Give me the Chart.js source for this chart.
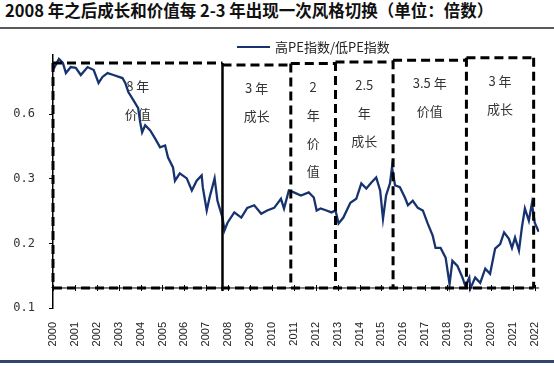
<!DOCTYPE html>
<html>
<head>
<meta charset="utf-8">
<script src="https://cdn.jsdelivr.net/npm/chart.js@4.4.1/dist/chart.umd.min.js"></script>
<style>
  html, body { margin: 0; padding: 0; background: #fff; }
  #wrap { position: relative; width: 554px; height: 366px; overflow: hidden; }
  #title {
    position: absolute; left: 5px; top: -2px; line-height: 26px;
    font: bold 16.5px "Noto Sans CJK SC", sans-serif; color: #111; white-space: nowrap;
  }
  #topRule { position: absolute; left: 0; top: 27px; width: 554px; height: 2px; background: #5a5a5a; }
  #bottomRule { position: absolute; left: 0; top: 360px; width: 554px; height: 3px; background: #34466b; }
  canvas { position: absolute; left: 0; top: 0; }
</style>
</head>
<body>
<div id="wrap">
  <div id="title">2008 年之后成长和价值每 2-3 年出现一次风格切换（单位：倍数）</div>
  <div id="topRule"></div>
  <canvas id="styleChart" width="554" height="366"></canvas>
  <div id="bottomRule"></div>
</div>
<script>
// --- data ---
const seriesLabel = '高PE指数/低PE指数';
const years = [2000.00, 2000.27, 2000.45, 2000.59, 2000.81, 2001.04, 2001.27, 2001.58, 2001.86, 2002.08,
  2002.26, 2002.49, 2002.76, 2003.17, 2003.30, 2003.44, 2003.67, 2003.89, 2003.98, 2004.07,
  2004.21, 2004.44, 2004.66, 2004.89, 2005.12, 2005.25, 2005.48, 2005.57, 2005.79, 2006.11,
  2006.34, 2006.56, 2006.79, 2006.84, 2007.02, 2007.15, 2007.38, 2007.51, 2007.74, 2007.83,
  2007.97, 2008.28, 2008.60, 2008.87, 2009.19, 2009.51, 2009.78, 2010.10, 2010.41, 2010.55,
  2010.77, 2011.00, 2011.32, 2011.68, 2011.91, 2012.04, 2012.22, 2012.49, 2012.72, 2012.90,
  2013.04, 2013.26, 2013.58, 2013.85, 2014.08, 2014.31, 2014.53, 2014.76, 2014.94, 2015.07,
  2015.21, 2015.39, 2015.48, 2015.62, 2015.84, 2016.07, 2016.21, 2016.43, 2016.66, 2016.89,
  2017.11, 2017.34, 2017.47, 2017.70, 2017.93, 2018.11, 2018.24, 2018.47, 2018.70, 2018.83,
  2019.01, 2019.06, 2019.28, 2019.51, 2019.74, 2019.96, 2020.19, 2020.42, 2020.60, 2020.82,
  2020.96, 2021.10, 2021.28, 2021.41, 2021.55, 2021.73, 2021.87, 2022.00, 2022.18];
const ratio = [0.805, 0.857, 0.838, 0.791, 0.819, 0.815, 0.782, 0.819, 0.805, 0.745,
  0.773, 0.791, 0.782, 0.768, 0.745, 0.703, 0.665, 0.628, 0.563, 0.516,
  0.549, 0.525, 0.488, 0.446, 0.455, 0.400, 0.353, 0.297, 0.325, 0.302,
  0.282, 0.297, 0.316, 0.287, 0.251, 0.271, 0.302, 0.266, 0.240, 0.220,
  0.232, 0.248, 0.240, 0.255, 0.259, 0.246, 0.251, 0.255, 0.269, 0.254,
  0.282, 0.279, 0.274, 0.279, 0.271, 0.251, 0.254, 0.251, 0.248, 0.251,
  0.231, 0.240, 0.263, 0.269, 0.293, 0.285, 0.294, 0.306, 0.282, 0.238,
  0.274, 0.293, 0.353, 0.290, 0.287, 0.271, 0.259, 0.266, 0.255, 0.251,
  0.231, 0.212, 0.193, 0.193, 0.178, 0.137, 0.173, 0.165, 0.147, 0.134,
  0.147, 0.130, 0.147, 0.139, 0.161, 0.153, 0.192, 0.199, 0.217, 0.207,
  0.193, 0.209, 0.189, 0.224, 0.254, 0.235, 0.262, 0.232, 0.218];
const yearTicks = [2000, 2001, 2002, 2003, 2004, 2005, 2006, 2007, 2008, 2009, 2010, 2011,
  2012, 2013, 2014, 2015, 2016, 2017, 2018, 2019, 2020, 2021, 2022];
const yTickValues = [0.1, 0.2, 0.3, 0.6];
const yTop = 0.875;

// style periods (dashed boxes)
const boxEdges = [2000, 2007.74, 2010.86, 2012.9, 2015.53, 2018.88, 2021.95];
const boxTops = [0.838, 0.829, 0.835, 0.842, 0.851, 0.862];
const boxBottom = 0.131;
const boxLabels = [['8 年', '价值'], ['3 年', '成长'], ['2', '年', '价', '值'],
  ['2.5', '年', '成长'], ['3.5 年', '价值'], ['3 年', '成长']];

// the value axis has evenly spaced labels 0.1 / 0.2 / 0.3 / 0.6
function toAxis(v) {
    const n = yTickValues.length;
    for (let i = 0; i < n - 1; i++) {
        const a = yTickValues[i], b = yTickValues[i + 1];
        if (v <= b || i === n - 2) return i + (v - a) / (b - a);
    }
}

const lineColor = '#17336f';

const decor = {
    id: 'decor',
    beforeDatasetsDraw(chart) {
        const { ctx, scales: { x, y } } = chart;
        ctx.save();
        ctx.fillStyle = '#333';
        ctx.font = '13px "Noto Sans CJK SC", sans-serif';
        ctx.textAlign = 'center';
        ctx.textBaseline = 'middle';
        boxLabels.forEach((lines, i) => {
            const cx = (x.getPixelForValue(boxEdges[i]) + x.getPixelForValue(boxEdges[i + 1])) / 2;
            const top = y.getPixelForValue(toAxis(boxTops[i]));
            lines.forEach((t, k) => ctx.fillText(t, cx, top + 23 + k * 28));
        });
        ctx.restore();
    },
    afterDatasetsDraw(chart) {
        const { ctx, chartArea, scales: { x, y } } = chart;
        const yb = y.getPixelForValue(toAxis(boxBottom));
        ctx.save();

        // horizontal axis line crossing at the box bottom
        ctx.strokeStyle = '#000';
        ctx.lineWidth = 1;
        ctx.beginPath();
        ctx.moveTo(chartArea.left, yb);
        ctx.lineTo(chartArea.right, yb);
        yearTicks.forEach(v => {
            const px = Math.round(x.getPixelForValue(v)) + 0.5;
            ctx.moveTo(px, yb - 3);
            ctx.lineTo(px, yb + 3);
        });
        ctx.stroke();

        // dashed boxes
        ctx.lineWidth = 3;
        ctx.setLineDash([9, 5]);
        ctx.beginPath();
        boxTops.forEach((t, i) => {
            const yt = y.getPixelForValue(toAxis(t));
            ctx.moveTo(x.getPixelForValue(boxEdges[i]), yt);
            ctx.lineTo(x.getPixelForValue(boxEdges[i + 1]), yt);
        });
        ctx.moveTo(x.getPixelForValue(boxEdges[0]), yb);
        ctx.lineTo(x.getPixelForValue(boxEdges[boxEdges.length - 1]), yb);
        boxEdges.forEach((e, k) => {
            if (k === 1) return;
            const tops = [boxTops[k - 1], boxTops[k]].filter(v => v !== undefined);
            const yt = y.getPixelForValue(toAxis(Math.max(...tops)));
            const px = x.getPixelForValue(e);
            ctx.moveTo(px, yt);
            ctx.lineTo(px, yb);
        });
        ctx.stroke();

        // first box right side is solid
        ctx.setLineDash([]);
        ctx.lineWidth = 2.5;
        ctx.beginPath();
        const sx = x.getPixelForValue(boxEdges[1]);
        ctx.moveTo(sx, y.getPixelForValue(toAxis(Math.max(boxTops[0], boxTops[1]))));
        ctx.lineTo(sx, yb + 3);
        ctx.stroke();

        // legend
        ctx.strokeStyle = lineColor;
        ctx.lineWidth = 2;
        ctx.beginPath();
        ctx.moveTo(237, 47);
        ctx.lineTo(270, 47);
        ctx.stroke();
        ctx.fillStyle = '#222';
        ctx.font = '13px "Noto Sans CJK SC", sans-serif';
        ctx.textAlign = 'left';
        ctx.textBaseline = 'middle';
        ctx.fillText(seriesLabel, 275, 47);
        ctx.restore();
    }
};

new Chart(document.getElementById('styleChart'), {
    type: 'line',
    data: {
        datasets: [{
            label: seriesLabel,
            data: years.map((yr, i) => ({ x: yr, y: toAxis(ratio[i]) })),
            borderColor: lineColor,
            borderWidth: 2.3,
            pointRadius: 0,
            tension: 0,
            fill: false
        }]
    },
    plugins: [decor],
    options: {
        responsive: false,
        animation: false,
        events: [],
        layout: { padding: { left: 0, top: 55, right: 6, bottom: 0 } },
        plugins: { legend: { display: false }, tooltip: { enabled: false } },
        scales: {
            x: {
                type: 'linear',
                min: 2000,
                max: 2022.2,
                afterBuildTicks: s => { s.ticks = yearTicks.map(v => ({ value: v })); },
                afterFit: s => { s.height = 58; },
                border: { display: false },
                grid: { display: false },
                ticks: {
                    minRotation: 90, maxRotation: 90, autoSkip: false, padding: 6,
                    color: '#222', font: { family: 'Liberation Sans', size: 11 },
                    callback: v => String(v)
                }
            },
            y: {
                min: 0,
                max: toAxis(yTop),
                afterBuildTicks: s => { s.ticks = yTickValues.map((v, i) => ({ value: i })); },
                afterFit: s => { s.width = 53; },
                border: { display: true, color: '#000', width: 1.5 },
                grid: { display: true, drawOnChartArea: false, tickLength: 4, color: '#000' },
                ticks: {
                    padding: 14, color: '#333',
                    font: { family: 'DejaVu Sans Mono', size: 12 },
                    callback: v => String(yTickValues[v])
                }
            }
        }
    }
});
</script>
</body>
</html>
